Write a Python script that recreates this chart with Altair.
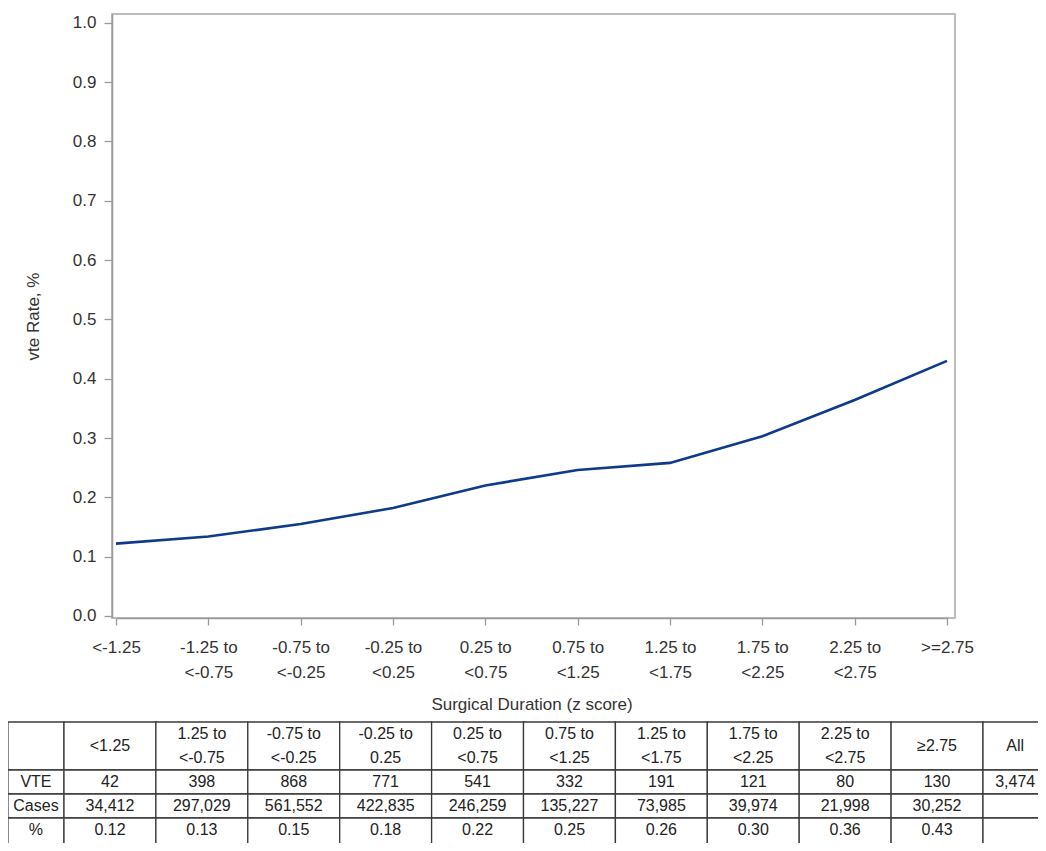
import altair as alt
import pandas as pd

# ---------------- data ----------------
axis_categories = ["<-1.25", "-1.25 to\n<-0.75", "-0.75 to\n<-0.25", "-0.25 to\n<0.25",
                   "0.25 to\n<0.75", "0.75 to\n<1.25", "1.25 to\n<1.75", "1.75 to\n<2.25",
                   "2.25 to\n<2.75", ">=2.75"]
vte_rate = [0.122, 0.134, 0.155, 0.182, 0.220, 0.246, 0.258, 0.303, 0.364, 0.430]
y_ticks = [0.0, 0.1, 0.2, 0.3, 0.4, 0.5, 0.6, 0.7, 0.8, 0.9, 1.0]

table_headers = ["<1.25", "1.25 to\n<-0.75", "-0.75 to\n<-0.25", "-0.25 to\n0.25",
                 "0.25 to\n<0.75", "0.75 to\n<1.25", "1.25 to\n<1.75", "1.75 to\n<2.25",
                 "2.25 to\n<2.75", "\u22652.75", "All"]
row_labels = ["VTE", "Cases", "%"]
vte_counts = ["42", "398", "868", "771", "541", "332", "191", "121", "80", "130", "3,474"]
case_counts = ["34,412", "297,029", "561,552", "422,835", "246,259", "135,227",
               "73,985", "39,974", "21,998", "30,252", ""]
pct_values = ["0.12", "0.13", "0.15", "0.18", "0.22", "0.25", "0.26", "0.30", "0.36", "0.43", ""]

# ---------------- line chart ----------------
line_df = pd.DataFrame({"cat": axis_categories, "rate": vte_rate})

FONT = "Liberation Sans"
AX_COL = "#9a9a9a"
TXT_COL = "#333333"

line = alt.Chart(line_df).mark_line(color="#0d3a8a", strokeWidth=2.6).encode(
    x=alt.X("cat:N", sort=axis_categories,
            scale=alt.Scale(type="point", range=[4, 835], padding=0),
            axis=alt.Axis(title="Surgical Duration (z score)", labelAngle=0,
                          labelExpr="split(datum.label, '\\n')",
                          labelBaseline="top", labelLineHeight=25,
                          labelPadding=14, tickSize=7, titlePadding=16,
                          labelFontSize=17, titleFontSize=17)),
    y=alt.Y("rate:Q",
            scale=alt.Scale(domain=[-0.0034, 1.0147], nice=False, zero=False),
            axis=alt.Axis(title="vte Rate, %", values=y_ticks, format=".1f", grid=False,
                          tickSize=8, labelPadding=8, titlePadding=30,
                          labelFontSize=17, titleFontSize=17)),
)

# ---------------- table ----------------
col_edges = [(-0.61, 0.0)] + [(float(k), float(k + 1)) for k in range(10)] + [(10.0, 10.7)]
row_edges = [(0.0, 2.0), (2.0, 3.0), (3.0, 4.0), (4.0, 5.5)]
row_centers = [1.0, 2.5, 3.5, 4.5]

rows_text = [[""] + table_headers,
             [row_labels[0]] + vte_counts,
             [row_labels[1]] + case_counts,
             [row_labels[2]] + pct_values]

records = []
for r, (y0, y1) in enumerate(row_edges):
    for c, (x0, x1) in enumerate(col_edges):
        lbl = rows_text[r][c]
        xc = (x0 + x1) / 2 if c < len(col_edges) - 1 else x0 + 0.35
        records.append({"x0": x0, "x1": x1, "y0": y0, "y1": y1,
                        "xc": xc, "yc": row_centers[r],
                        "label": lbl, "nlines": lbl.count("\n") + 1})
cells = pd.DataFrame(records)

tx = alt.Scale(domain=[0, 10], range=[-48, 871], nice=False, zero=False)
ty = alt.Scale(domain=[0, 5], range=[708, 828], nice=False, zero=False)

rects = alt.Chart(cells).mark_rect(fill="white", stroke="#3a3a3a", strokeWidth=1.3).encode(
    x=alt.X("x0:Q", scale=tx, axis=None),
    x2="x1:Q",
    y=alt.Y("y0:Q", scale=ty, axis=None),
    y2="y1:Q",
)
text_base = dict(font=FONT, fontSize=16, lineBreak="\n", lineHeight=24,
                 color="#222222", baseline="middle")
texts_one = alt.Chart(cells).mark_text(**text_base).encode(
    x=alt.X("xc:Q", scale=tx, axis=None),
    y=alt.Y("yc:Q", scale=ty, axis=None),
    text="label:N",
).transform_filter("datum.nlines == 1")
texts_two = alt.Chart(cells).mark_text(dy=-12, **text_base).encode(
    x=alt.X("xc:Q", scale=tx, axis=None),
    y=alt.Y("yc:Q", scale=ty, axis=None),
    text="label:N",
).transform_filter("datum.nlines == 2")
table = alt.layer(rects, texts_one, texts_two)

chart = alt.layer(line, table).resolve_scale(x="independent", y="independent").properties(
    width=843, height=604,
    autosize=alt.AutoSizeParams(type="none"),
    padding={"top": 6, "left": 104, "right": 83, "bottom": 225},
).configure_view(
    stroke="#a8a8a8", strokeWidth=1.5
).configure_axis(
    labelFont=FONT, titleFont=FONT, labelColor=TXT_COL, titleColor=TXT_COL,
    titleFontWeight="normal", domainColor=AX_COL, tickColor=AX_COL,
    domainWidth=1.5, tickWidth=1.3
)

chart.save("out.html", embed_options={"renderer": "svg", "actions": False})
